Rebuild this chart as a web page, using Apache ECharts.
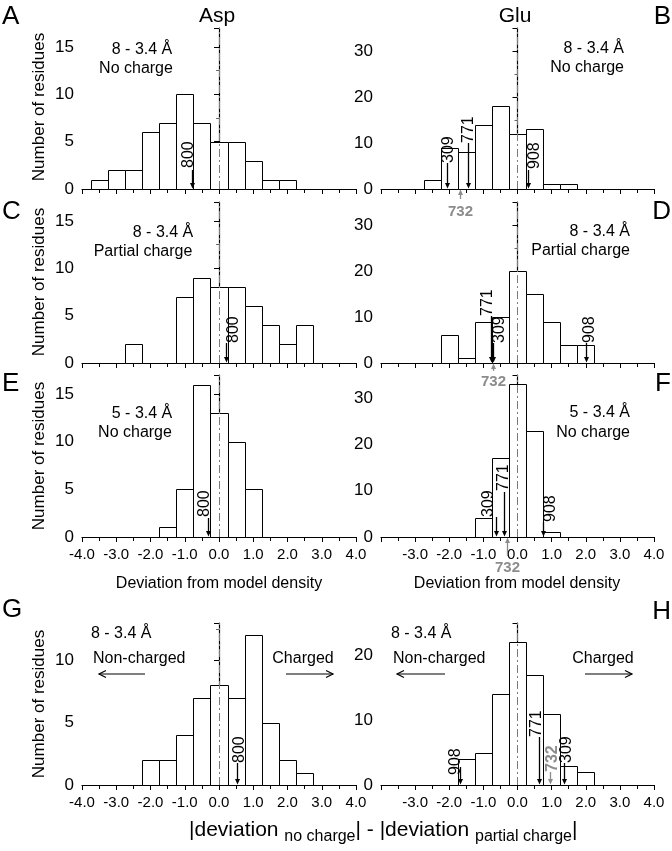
<!DOCTYPE html>
<html>
<head>
<meta charset="utf-8">
<script src="https://cdn.jsdelivr.net/npm/echarts@6/dist/echarts.min.js"></script>
<style>
  html, body { margin: 0; padding: 0; background: #fff; }
  #main { width: 672px; height: 851px; }
</style>
</head>
<body>
<div id="main"></div>
<script>
// histogram bins (centre of each 0.5 wide bin) and residue counts
const centersA = [-3.5, -3, -2.5, -2, -1.5, -1, -0.5, 0, 0.5, 1, 1.5, 2];
const countsA = [1, 2, 2, 6, 7, 10, 7, 5, 5, 3, 1, 1];
const centersB = [-2.5, -2, -1.5, -1, -0.5, 0, 0.5, 1, 1.5];
const countsB = [2, 9, 8, 14, 18, 12, 13, 1, 1];
const centersC = [-2.5, -1, -0.5, 0, 0.5, 1, 1.5, 2, 2.5];
const countsC = [2, 7, 9, 8, 8, 6, 4, 2, 4];
const centersD = [-2, -1.5, -1, -0.5, 0, 0.5, 1, 1.5, 2];
const countsD = [6, 1, 9, 10, 20, 15, 9, 4, 4];
const centersE = [-1.5, -1, -0.5, 0, 0.5, 1];
const countsE = [1, 5, 16, 13, 10, 5];
const centersF = [-1, -0.5, 0, 0.5, 1];
const countsF = [4, 17, 33, 23, 1];
const centersG = [-2, -1.5, -1, -0.5, 0, 0.5, 1, 1.5, 2, 2.5];
const countsG = [2, 2, 4, 7, 8, 7, 12, 5, 2, 1];
const centersH = [-1.5, -1, -0.5, 0, 0.5, 1, 1.5, 2];
const countsH = [4, 5, 14, 22, 17, 11, 3, 2];

// marked residues and their deviation
const residuesA = ['800'], devA = [-0.8];
const residuesB = ['309', '771', '908', '732'], devB = [-2.06, -1.45, 0.31, -1.69];
const residuesC = ['800'], devC = [0.2];
const residuesD = ['771', '309', '908', '732'], devD = [-0.79, -0.71, 2.0, -0.71];
const residuesE = ['800'], devE = [-0.31];
const residuesF = ['309', '771', '908', '732'], devF = [-0.64, -0.39, 0.75, -0.32];
const residuesG = ['800'], devG = [0.54];
const residuesH = ['908', '771', '732', '309'], devH = [-1.69, 0.64, 0.95, 1.37];

const yMax = [17, 35, 17, 35, 17, 35, 13, 25];
const yStep = [5, 10, 5, 10, 5, 10, 5, 10];

const FONT = '"Liberation Sans", Arial, sans-serif';

// arrow length, label dx, label offset from axis, kind
const markerLayout = [
  [[19, -4, 21, 'down']],
  [[26, 1, 26, 'down'], [46, 0, 46, 'down'], [19, 6, 20, 'down'], [10, 0, -23, 'below']],
  [[20, 7, 20, 'down']],
  [[47, -4, 47, 'down'], [20, 6, 20, 'down'], [20, 3, 20, 'down'], [8, 0, -19, 'below']],
  [[19, -4, 20, 'down']],
  [[20, -8, 20, 'down'], [45, -1, 46, 'down'], [15, 7, 15, 'down'], [19, 0, -31, 'below']],
  [[22, 2, 22, 'down']],
  [[18, -5, 10, 'down'], [48, -3, 48, 'down'], [13, 2, 13, 'gray'], [22, 2, 22, 'down']]
];

const panels = [
  [centersA, countsA, residuesA, devA],
  [centersB, countsB, residuesB, devB],
  [centersC, countsC, residuesC, devC],
  [centersD, countsD, residuesD, devD],
  [centersE, countsE, residuesE, devE],
  [centersF, countsF, residuesF, devF],
  [centersG, countsG, residuesG, devG],
  [centersH, countsH, residuesH, devH]
];

const grids = [
  { left: 82, top: 28, width: 274, height: 161 },
  { left: 381, top: 28, width: 273, height: 161 },
  { left: 82, top: 202, width: 274, height: 161 },
  { left: 381, top: 202, width: 273, height: 161 },
  { left: 82, top: 375, width: 274, height: 162 },
  { left: 381, top: 375, width: 273, height: 162 },
  { left: 82, top: 623, width: 274, height: 162 },
  { left: 381, top: 623, width: 273, height: 162 }
];

function barItem(params, api) {
  const x = api.value(0), n = api.value(1);
  const a = api.coord([x - 0.25, 0]), b = api.coord([x + 0.25, n]);
  const x0 = Math.round(a[0]) + 0.5, x1 = Math.round(b[0]) + 0.5;
  const yb = Math.round(a[1]) + 0.5, yt = Math.round(b[1]) + 0.5;
  return {
    type: 'rect',
    shape: { x: x0, y: yt, width: x1 - x0, height: yb - yt },
    style: { fill: '#fff', stroke: '#000', lineWidth: 1 }
  };
}

function markerItem(labels, layout) {
  return function (params, api) {
    const i = params.dataIndex;
    const [len, dx, off, kind] = layout[i];
    const p = api.coord([api.value(0), 0]);
    const x = Math.round(p[0]) + 0.5, y0 = p[1];
    const col = kind === 'down' ? '#000' : '#8c8c8c';
    const kids = [];
    if (kind === 'below') {
      kids.push({ type: 'line', shape: { x1: x, y1: y0 + 4, x2: x, y2: y0 + len }, style: { stroke: col, lineWidth: 1.3 } });
      kids.push({ type: 'polygon', shape: { points: [[x, y0 + 0.5], [x - 2.5, y0 + 6], [x + 2.5, y0 + 6]] }, style: { fill: col } });
      kids.push({ type: 'text', x: x + dx, y: y0 - off,
        style: { text: labels[i], font: 'bold 15px ' + FONT, fill: col, align: 'center', verticalAlign: 'middle' } });
    } else {
      kids.push({ type: 'line', shape: { x1: x, y1: y0 - len, x2: x, y2: y0 - 4 }, style: { stroke: col, lineWidth: 1.3 } });
      kids.push({ type: 'polygon', shape: { points: [[x, y0 - 0.5], [x - 2.5, y0 - 6], [x + 2.5, y0 - 6]] }, style: { fill: col } });
      kids.push({ type: 'text', x: x + dx, y: y0 - off, rotation: Math.PI / 2,
        style: { text: labels[i], font: (kind === 'gray' ? 'bold ' : '') + '16px ' + FONT, fill: col, align: 'left', verticalAlign: 'middle' } });
    }
    return { type: 'group', children: kids };
  };
}

const xAxes = [], yAxes = [], series = [];
panels.forEach((pn, k) => {
  const showLabels = k >= 4;
  xAxes.push({
    type: 'value', gridIndex: k, min: -4, max: 4, interval: 1,
    axisLine: { lineStyle: { color: '#000', width: 1.2 } },
    axisTick: { show: true, length: 5, lineStyle: { color: '#000' } },
    minorTick: { show: true, splitNumber: 2, length: 4, lineStyle: { color: '#000' } },
    splitLine: { show: false },
    axisLabel: {
      show: showLabels, margin: 10, color: '#000', fontSize: 15, fontFamily: FONT,
      showMinLabel: k % 2 === 0, formatter: v => v.toFixed(1)
    }
  });
  yAxes.push({
    type: 'value', gridIndex: k, min: 0, max: yMax[k], interval: yStep[k],
    axisLine: { show: true, lineStyle: { color: '#000', width: 1.2 } },
    axisTick: { show: true, length: 5, lineStyle: { color: '#000' } },
    minorTick: { show: true, splitNumber: 2, length: 3, lineStyle: { color: '#666' } },
    splitLine: { show: false },
    axisLabel: { margin: 8, color: '#000', fontSize: 17, fontFamily: FONT, showMaxLabel: false }
  });
  series.push({
    type: 'custom', xAxisIndex: k, yAxisIndex: k, z: 2,
    data: pn[0].map((c, j) => [c, pn[1][j]]),
    encode: { x: 0, y: 1 },
    renderItem: barItem,
    markLine: {
      silent: true, symbol: ['none', 'none'], label: { show: false },
      lineStyle: { color: '#7a7a7a', type: [8, 3, 2, 3], width: 1 },
      data: [{ xAxis: 0 }]
    }
  });
  series.push({
    type: 'custom', xAxisIndex: k, yAxisIndex: k, z: 5, clip: false,
    data: pn[3].map(v => [v, 0]),
    encode: { x: 0, y: 1 },
    renderItem: markerItem(pn[2], markerLayout[k])
  });
});

function txt(text, x, y, size, align, extra) {
  return Object.assign({
    type: 'text', x: x, y: y, silent: true,
    style: { text: text, font: size + 'px ' + FONT, fill: '#000', align: align || 'center', verticalAlign: 'middle' }
  }, extra || {});
}
function hArrow(x1, x2, y) {
  const d = x2 > x1 ? -1 : 1;
  return [
    { type: 'line', silent: true, shape: { x1: x1, y1: y, x2: x2, y2: y }, style: { stroke: '#000', lineWidth: 1.2 } },
    { type: 'polyline', silent: true, shape: { points: [[x2 + d * 7, y - 3.5], [x2, y], [x2 + d * 7, y + 3.5]] }, style: { stroke: '#000', lineWidth: 1.2, fill: null } }
  ];
}

const graphics = [
  txt('Asp', 217, 16, 21), txt('Glu', 515, 16, 21),
  txt('A', 2, 17, 26, 'left'), txt('B', 671, 17, 26, 'right'),
  txt('C', 2, 212, 26, 'left'), txt('D', 671, 212, 26, 'right'),
  txt('E', 2, 384, 26, 'left'), txt('F', 671, 384, 26, 'right'),
  txt('G', 2, 610, 26, 'left'), txt('H', 671, 612, 26, 'right'),
  txt('8 - 3.4 Å', 142, 50, 16), txt('No charge', 136, 69, 16),
  txt('8 - 3.4 Å', 624, 49, 16, 'right'), txt('No charge', 624, 68, 16, 'right'),
  txt('8 - 3.4 Å', 163, 233, 16), txt('Partial charge', 143, 252, 16),
  txt('8 - 3.4 Å', 630, 232, 16, 'right'), txt('Partial charge', 630, 251, 16, 'right'),
  txt('5 - 3.4 Å', 142, 414, 16), txt('No charge', 135, 433, 16),
  txt('5 - 3.4 Å', 630, 413, 16, 'right'), txt('No charge', 630, 433, 16, 'right'),
  txt('8 - 3.4 Å', 91, 634, 16, 'left'), txt('Non-charged', 93, 659, 16, 'left'),
  txt('Charged', 303, 659, 16),
  txt('8 - 3.4 Å', 391, 634, 16, 'left'), txt('Non-charged', 393, 659, 16, 'left'),
  txt('Charged', 603, 659, 16),
  txt('Deviation from model density', 219, 584, 16),
  txt('Deviation from model density', 517, 584, 16)
].concat(hArrow(145, 99, 674), hArrow(286, 333, 674), hArrow(445, 397, 674), hArrow(585, 632, 674));

[107, 282, 456, 704].forEach(cy => {
  graphics.push(txt('Number of residues', 39, cy, 17, 'center', { rotation: Math.PI / 2 }));
});

// bottom composite label with subscripts
const ctx = document.createElement('canvas').getContext('2d');
function measure(s, size) { ctx.font = size + 'px ' + FONT; return ctx.measureText(s).width; }
const pieces = [['|deviation ', 21, 0], ['no charge', 16, 1], ['| - |deviation ', 21, 0], ['partial charge', 16, 1], ['|', 21, 0]];
let cx = 189;
pieces.forEach(p => {
  graphics.push(txt(p[0], cx, p[2] ? 837 : 830, p[1], 'left'));
  cx += measure(p[0], p[1]);
});

const chart = echarts.init(document.getElementById('main'), null, { renderer: 'canvas' });
chart.setOption({
  animation: false,
  backgroundColor: '#fff',
  grid: grids,
  xAxis: xAxes,
  yAxis: yAxes,
  series: series,
  graphic: { elements: graphics }
});
</script>
</body>
</html>
